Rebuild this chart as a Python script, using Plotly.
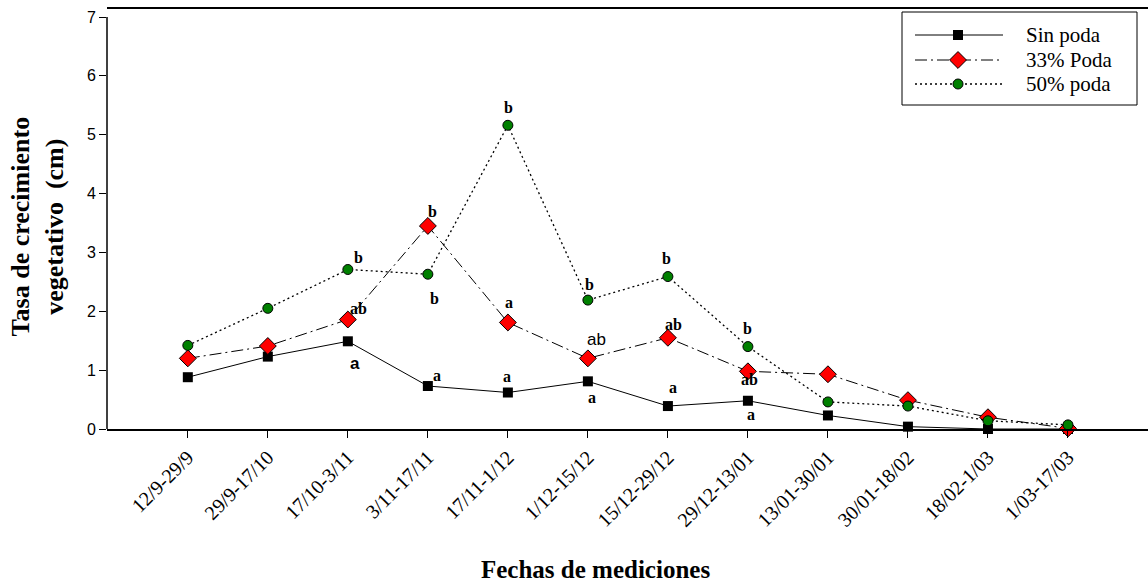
import plotly.graph_objects as go

# Measurement periods
periodos = ["12/9-29/9", "29/9-17/10", "17/10-3/11", "3/11-17/11", "17/11-1/12",
            "1/12-15/12", "15/12-29/12", "29/12-13/01", "13/01-30/01",
            "30/01-18/02", "18/02-1/03", "1/03-17/03"]

# Vegetative growth rate (cm) per pruning treatment
sin_poda = [0.88, 1.23, 1.49, 0.73, 0.62, 0.81, 0.39, 0.48, 0.23, 0.04, 0.0, 0.0]
poda_33 = [1.20, 1.41, 1.86, 3.45, 1.81, 1.20, 1.55, 0.98, 0.93, 0.49, 0.20, 0.01]
poda_50 = [1.42, 2.05, 2.71, 2.63, 5.16, 2.19, 2.59, 1.40, 0.46, 0.39, 0.14, 0.07]

# Significance letters per treatment and period ("" = none shown)
letras_sin = ["", "", "a", "a", "a", "a", "a", "a", "", "", "", ""]
letras_33 = ["", "", "ab", "b", "a", "ab", "ab", "ab", "", "", "", ""]
letras_50 = ["", "", "b", "b", "b", "b", "b", "b", "", "", "", ""]

nombres = ["Sin poda", "33% Poda", "50% poda"]

SERIF = "Liberation Serif, Times New Roman, serif"
SANS = "Liberation Sans, Arial, sans-serif"

idx = list(range(len(periodos)))

fig = go.Figure()

lineas = [
    dict(color="black", width=1),
    dict(color="black", width=1, dash="12px,4px,2px,4px"),
    dict(color="black", width=1.3, dash="2px,3px"),
]
marcadores = [
    dict(symbol="square", size=10, color="black"),
    dict(symbol="diamond", size=13, color="#ff0000", line=dict(color="black", width=1)),
    dict(symbol="circle", size=10, color="#008000", line=dict(color="black", width=1)),
]

for serie, nombre, ln, mk in zip([sin_poda, poda_33, poda_50], nombres, lineas, marcadores):
    fig.add_trace(go.Scatter(x=idx, y=serie, mode="lines+markers", name=nombre,
                             showlegend=False, cliponaxis=False, line=ln, marker=mk))

# Letter offsets (px) relative to each marker: (xshift, yshift)
off_sin = {2: (7, -22), 3: (9, 11), 4: (-1, 16), 5: (4, -16), 6: (5, 19), 7: (3, -14)}
off_33 = {2: (11, 11), 3: (5, 14), 4: (1, 20), 5: (9, 19), 6: (6, 13), 7: (2, -8)}
off_50 = {2: (11, 12), 3: (7, -24), 4: (1, 18), 5: (2, 16), 6: (-1, 18), 7: (0, 18)}

serif_b = dict(family=SERIF, size=16, color="black", weight="bold")
for serie, letras, offs in [(sin_poda, letras_sin, off_sin),
                            (poda_33, letras_33, off_33),
                            (poda_50, letras_50, off_50)]:
    for i, t in enumerate(letras):
        if not t:
            continue
        dx, dy = offs[i]
        font = serif_b
        if serie is sin_poda and i == 2:
            font = dict(family=SANS, size=17, color="black", weight="bold")
        if serie is poda_33 and i == 5:
            font = dict(family=SANS, size=17, color="black")
        fig.add_annotation(x=i, y=serie[i], text=t, showarrow=False,
                           xshift=dx, yshift=dy, font=font)

# Legend drawn on a pixel-scaled overlay axis
leg_y = [35, 60, 84]
for ln, mk, nombre, yy in zip(lineas, marcadores, nombres, leg_y):
    fig.add_trace(go.Scatter(x=[915, 1003], y=[yy, yy], mode="lines",
                             xaxis="x2", yaxis="y2", showlegend=False,
                             hoverinfo="skip", line=ln))
    fig.add_trace(go.Scatter(x=[958], y=[yy], mode="markers",
                             xaxis="x2", yaxis="y2", showlegend=False,
                             hoverinfo="skip", marker=mk))
    fig.add_annotation(x=1024, y=yy, xref="x2", yref="y2", text=nombre,
                       showarrow=False, xanchor="left", yanchor="middle",
                       font=dict(family=SERIF, size=21, color="black"))
fig.add_shape(type="rect", xref="x2", yref="y2", x0=902, x1=1137, y0=12, y1=105,
              line=dict(color="black", width=1), fillcolor="rgba(0,0,0,0)")

# y-axis line from 0 to 7
fig.add_shape(type="line", xref="paper", yref="y", x0=0, x1=0, y0=0, y1=7,
              line=dict(color="black", width=1.5))

fig.add_annotation(xref="paper", yref="paper", x=-0.067, y=0.483,
                   text="Tasa de crecimiento<br>vegetativo  (cm)",
                   textangle=-90, showarrow=False, xanchor="center", yanchor="middle",
                   font=dict(family=SERIF, size=26, color="black", weight="bold"))

fig.add_annotation(xref="x2", yref="paper", x=595, y=-0.335,
                   text="Fechas de mediciones", showarrow=False,
                   xanchor="center", yanchor="middle",
                   font=dict(family=SERIF, size=25, color="black", weight="bold"))

fig.update_layout(
    width=1148, height=582,
    margin=dict(l=107, r=0, t=9, b=153),
    paper_bgcolor="white", plot_bgcolor="white",
    xaxis=dict(range=[-1.01, 12], tickvals=idx, ticktext=periodos,
               tickangle=-45, showgrid=False, zeroline=False,
               showline=True, linecolor="black", linewidth=1.5, mirror=True,
               ticks="outside", ticklen=7, tickcolor="black",
               tickfont=dict(family=SERIF, size=20, color="black")),
    yaxis=dict(range=[0, 7.136], tickvals=list(range(8)), showgrid=False,
               zeroline=False, showline=False,
               ticks="outside", ticklen=7, tickcolor="black",
               tickfont=dict(family=SANS, size=16, color="black")),
    xaxis2=dict(range=[107, 1148], domain=[0, 1], overlaying="x", visible=False,
                anchor="y2"),
    yaxis2=dict(range=[429, 9], domain=[0, 1], overlaying="y", visible=False,
                anchor="x2"),
)

fig.write_html("out.html")
